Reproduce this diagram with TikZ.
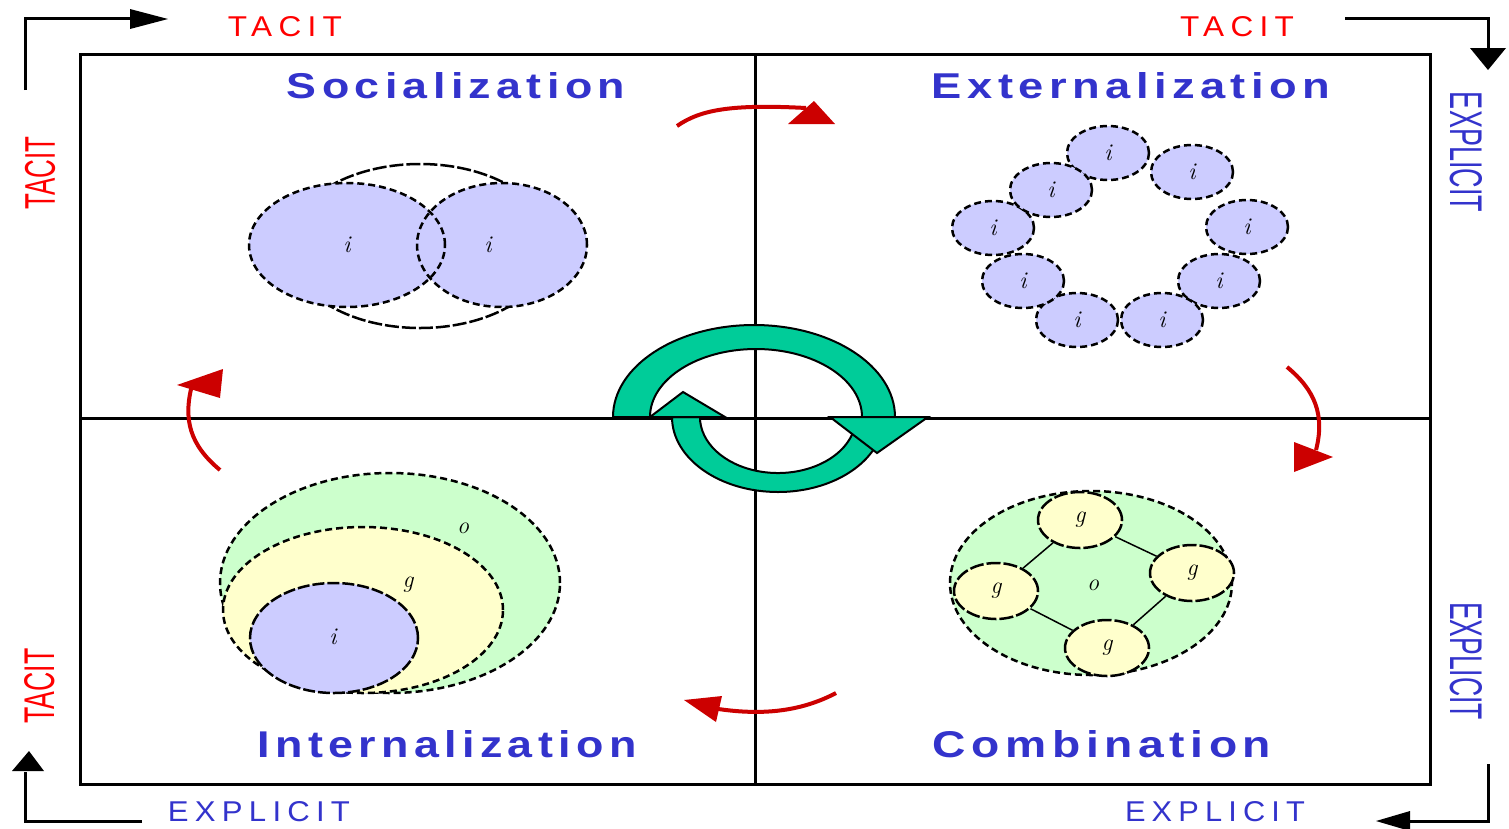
\documentclass[tikz,border=0pt]{standalone}
\usepackage{fontspec}
\usetikzlibrary{shapes.geometric}
\newfontfamily\labfont{Liberation Sans}[LetterSpace=20]
\newfontfamily\vlabfont{Liberation Sans}
\newfontfamily\titlefont{Liberation Sans}[LetterSpace=12]
\definecolor{tblue}{HTML}{3333CC}
\definecolor{lred}{HTML}{FF0000}
\definecolor{dred}{HTML}{CC0000}
\definecolor{tealc}{HTML}{00CC99}
\definecolor{lblue}{HTML}{CCCCFF}
\definecolor{lgreen}{HTML}{CCFFCC}
\definecolor{lyellow}{HTML}{FFFFCC}
\begin{document}
\begin{tikzpicture}[x=1pt,y=-1pt,
  frame/.style={line width=3pt},
  dsh/.style={draw=black, line width=2.5pt, dash pattern=on 7pt off 4pt},
  cell/.style={ellipse, inner sep=0pt, dsh, font=\fontsize{24}{24}\selectfont\itshape},
  lab/.style={inner sep=0pt, font=\fontsize{24}{24}\selectfont\itshape},
  redarr/.style={draw=dred, line width=4pt},
  corner/.style={line width=3pt},
  ring/.style={fill=tealc, draw=black, line width=2pt},
  title/.style={text=tblue, inner sep=0pt},
  axlab/.style={inner sep=0pt}]
\useasboundingbox (0,0) rectangle (1509,828);
\fill[white] (0,0) rectangle (1509,828);

% frame and quadrant lines
\draw[frame] (80,54) rectangle (1430,784);
\draw[frame] (755,54) -- (755,784);
\draw[frame] (80,418) -- (1430,418);

% corner arrows
\coordinate (a1s) at (25,90); \coordinate (a1c) at (25,18); \coordinate (a1e) at (132,18);
\draw[corner] (a1s) -- (a1c) -- (a1e);
\fill (130,9) -- (168,19) -- (130,29) -- cycle;
\coordinate (a2s) at (1345,18); \coordinate (a2c) at (1488,18); \coordinate (a2e) at (1488,50);
\draw[corner] (a2s) -- (a2c) -- (a2e);
\fill (1470,48) -- (1506,48) -- (1488,70) -- cycle;
\coordinate (a3s) at (1488,764); \coordinate (a3c) at (1488,821); \coordinate (a3e) at (1408,821);
\draw[corner] (a3s) -- (a3c) -- (a3e);
\fill (1410,811) -- (1410,831) -- (1376,821) -- cycle;
\coordinate (a4s) at (142,821); \coordinate (a4c) at (25,821); \coordinate (a4e) at (25,772);
\draw[corner] (a4s) -- (a4c) -- (a4e);
\fill (12,771) -- (44,771) -- (29,751) -- cycle;

% axis labels
\node[axlab, text=lred] (tt1) at (285,27) {\resizebox{114pt}{20pt}{\labfont TACIT}};
\node[axlab, text=lred] (tt2) at (1237,27) {\resizebox{114pt}{20pt}{\labfont TACIT}};
\node[axlab, text=tblue] (eb1) at (259,812) {\resizebox{182pt}{20pt}{\labfont EXPLICIT}};
\node[axlab, text=tblue] (eb2) at (1215,812) {\resizebox{180pt}{20pt}{\labfont EXPLICIT}};
\node[axlab, text=lred, rotate=90] (tl1) at (40,173) {\resizebox{73pt}{30pt}{\vlabfont TACIT}};
\node[axlab, text=lred, rotate=90] (tl2) at (40,686) {\resizebox{75pt}{30pt}{\vlabfont TACIT}};
\node[axlab, text=tblue, rotate=-90] (er1) at (1466,152) {\resizebox{120pt}{32pt}{\vlabfont EXPLICIT}};
\node[axlab, text=tblue, rotate=-90] (er2) at (1466,661) {\resizebox{118pt}{32pt}{\vlabfont EXPLICIT}};

% titles
\node[title] (soc) at (456,86) {\resizebox{338pt}{26pt}{\titlefont\bfseries Socialization}};
\node[title] (ext) at (1131,86) {\resizebox{398pt}{26pt}{\titlefont\bfseries Externalization}};
\node[title] (int) at (447,744) {\resizebox{379pt}{27pt}{\titlefont\bfseries Internalization}};
\node[title] (com) at (1102,744) {\resizebox{338pt}{27pt}{\titlefont\bfseries Combination}};

% Socialization
\draw[dsh, dash pattern=on 14pt off 3pt] (420,246) ellipse [x radius=132pt, y radius=82pt];
\fill[lblue] (502,245) ellipse [x radius=85pt, y radius=62pt];
\fill[lblue] (347,245) ellipse [x radius=98pt, y radius=62pt];
\draw[dsh] (502,245) ellipse [x radius=85pt, y radius=62pt];
\draw[dsh] (347,245) ellipse [x radius=98pt, y radius=62pt];
\node[lab] (si1) at (347,245) {i};
\node[lab] (si2) at (488,245) {i};

% Externalization
\foreach \n/\x/\y in {e1/1108/153, e2/1192/172, e3/1247/227, e4/1219/281, e5/1162/320,
                      e6/1077/320, e7/1023/281, e8/993/228, e9/1051/190}
  \node[cell, fill=lblue, minimum width=82pt, minimum height=54pt] (\n) at (\x,\y) {i};

% Internalization
\fill[lgreen] (390,583) ellipse [x radius=170pt, y radius=110pt];
\draw[dsh] (390,583) ellipse [x radius=170pt, y radius=110pt];
\fill[lyellow] (363,610) ellipse [x radius=140pt, y radius=83pt];
\draw[dsh] (363,610) ellipse [x radius=140pt, y radius=83pt];
\fill[lblue] (334,638) ellipse [x radius=84pt, y radius=55pt];
\draw[dsh, dash pattern=on 12pt off 3pt] (334,638) ellipse [x radius=84pt, y radius=55pt];
\node[lab] (io) at (463,528) {o};
\node[lab] (ig) at (408,585) {g};
\node[lab] (ii) at (333,637) {i};

% Combination
\fill[lgreen] (1091,583) ellipse [x radius=141pt, y radius=92pt];
\draw[dsh] (1091,583) ellipse [x radius=141pt, y radius=92pt];
\foreach \n/\x/\y in {ct/1080/520, cr/1192/573, cl/996/591, cb/1107/648}
  \node[cell, fill=lyellow, dash pattern=on 14pt off 3pt, minimum width=84pt, minimum height=56pt] (\n) at (\x,\y) {g};
\draw[line width=1.5pt] (cl) -- (ct);
\draw[line width=1.5pt] (ct) -- (cr);
\draw[line width=1.5pt] (cr) -- (cb);
\draw[line width=1.5pt] (cb) -- (cl);
\node[lab] (co) at (1093,585) {o};

% central cycle
\draw[ring] (672,417) arc[start angle=180, end angle=345, x radius=106pt, y radius=75pt]
  -- (853.3,431.5) arc[start angle=345, end angle=180, x radius=78pt, y radius=56pt] -- cycle;
\draw[ring] (613,417) arc[start angle=180, end angle=0, x radius=141pt, y radius=92pt]
  -- (862,417) arc[start angle=0, end angle=180, x radius=106pt, y radius=68pt] -- cycle;
\draw[ring] (830,417) -- (928,417) -- (877,453) -- cycle;
\draw[ring] (650,417) -- (725,417) -- (683,392) -- cycle;

% red arrows
\coordinate (r1a) at (677,126); \coordinate (r1b) at (806,108);
\draw[redarr] (r1a) .. controls (700,110) and (730,104) .. (r1b);
\fill[dred] (788,124) -- (835,124) -- (814,101) -- cycle;
\coordinate (r2a) at (1287,367); \coordinate (r2b) at (1316,450);
\draw[redarr] (r2a) .. controls (1315,390) and (1325,415) .. (r2b);
\fill[dred] (1294,442) -- (1294,472) -- (1333,457) -- cycle;
\coordinate (r3a) at (220,470); \coordinate (r3b) at (192,385);
\draw[redarr] (r3a) .. controls (190,445) and (183,420) .. (r3b);
\fill[dred] (177,385) -- (223,369) -- (220,398) -- cycle;
\coordinate (r4a) at (836,693); \coordinate (r4b) at (712,708);
\draw[redarr] (r4a) .. controls (800,712) and (760,716) .. (r4b);
\fill[dred] (684,700) -- (722,696) -- (716,722) -- cycle;
\end{tikzpicture}
\end{document}
